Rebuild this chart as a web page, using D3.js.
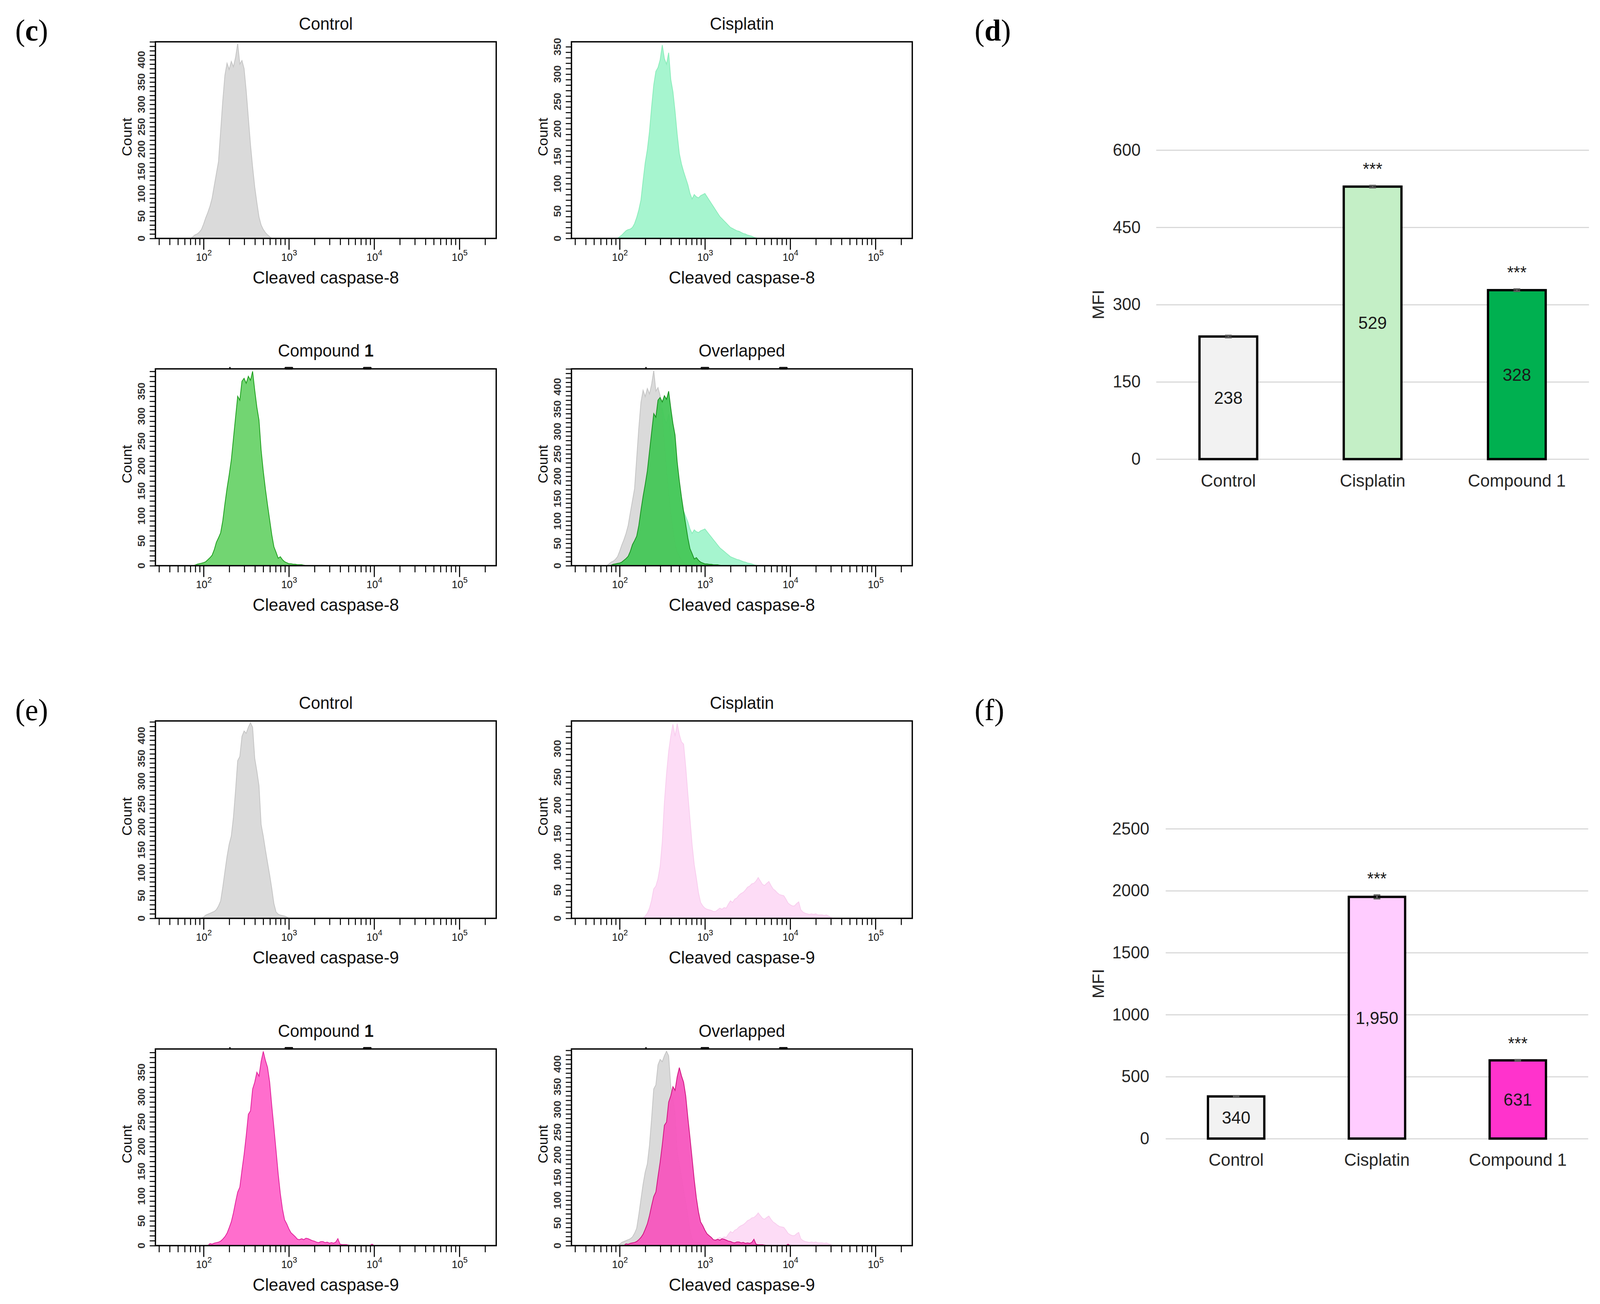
<!DOCTYPE html>
<html><head><meta charset="utf-8">
<script src="https://cdn.jsdelivr.net/npm/d3@7"></script>
<style>
html,body{margin:0;padding:0;background:#fff;width:100%;height:100%;overflow:hidden;}
svg{display:block;width:100vw;height:100vh;}
text{font-family:"Liberation Sans",Arial,sans-serif;white-space:pre;}
</style>
</head><body>
<svg id="fig" viewBox="0 0 4211 3339" preserveAspectRatio="none"></svg>
<script>
// ================= DATA =================
// histogram bins: log10 fluorescence, first bin and bin width (decades)
const binStartLog = 1.85;
const binStepLog = 0.025;

// Cleaved caspase-8 histograms (counts per bin)
const c8Control = [0,4,8,10,14,20,32,46,58,72,90,118,145,172,240,308,365,392,378,396,384,405,436,390,398,380,330,270,210,160,115,80,48,30,20,13,8,4,0];
const c8Cisplatin = [0,0,0,0,0,0,3,6,10,14,16,17,20,27,38,52,70,105,138,162,195,240,280,305,312,326,353,328,318,339,290,268,232,190,155,136,122,110,98,82,72,80,76,74,78,80,82,76,70,64,58,52,46,40,36,32,28,24,20,18,16,14,13,11,9,8,6,5,4,2,1,0];
const c8Compound = [0,0,1,3,4,5,6,8,12,16,21,32,47,56,66,90,124,155,182,212,255,298,340,332,370,376,366,380,372,390,352,318,292,232,190,154,122,92,62,38,27,15,18,12,8,6,4,4,3,3,2,2,2,1,0];

// Cleaved caspase-9 histograms
const c9Control = [0,0,0,0,0,0,3,7,9,11,13,15,19,27,38,68,102,135,162,180,221,280,345,354,398,410,405,418,428,418,350,322,290,205,180,150,122,95,65,32,14,9,7,6,5,3,0];
const c9Cisplatin = [0,0,0,0,0,0,0,0,0,0,0,0,0,0,0,0,0,0,
  4,9,18,32,52,57,70,92,135,205,255,295,322,343,322,344,325,312,308,268,220,175,130,95,71,45,28,22,18,16,15,14,12,12,15,18,16,19,18,25,31,28,34,36,41,44,46,50,55,57,61,62,66,72,66,60,58,62,65,58,52,49,45,42,41,40,34,27,24,22,22,26,29,15,11,9,8,7,8,7,8,6,6,6,5,6,4,2,0];
const c9Compound = [0,0,0,0,0,0,0,0,0,
  4,3,5,6,7,9,13,18,25,36,48,66,88,108,118,152,184,222,265,272,316,330,350,342,372,392,374,360,330,282,238,192,145,105,74,52,44,34,26,22,18,13,12,14,12,15,14,12,10,9,7,6,8,8,6,7,5,6,5,7,14,3,2,2,2,1,0,0,0,0,0,0,0,0,0,0,3,0];

const histTitles = ["Control", "Cisplatin", "Compound 1", "Overlapped"];
const c8AxisLabel = "Cleaved caspase-8";
const c9AxisLabel = "Cleaved caspase-9";
const c8YMax = [440, 359, 395, 440];
const c9YMax = [432, 349, 397, 433];
const countTickLabels = [0, 50, 100, 150, 200, 250, 300, 350, 400];
const decadeTicks = [100, 1000, 10000, 100000];
const decadeExponents = ["2", "3", "4", "5"];
// small dark marks on the top frame of the "Compound 1" / "Overlapped" plots (log10 start, end)
const topFrameMarks = [[2.30, 2.315], [2.95, 3.05], [3.87, 3.97]];

// MFI bar charts
const mfiCategories = ["Control", "Cisplatin", "Compound 1"];
const mfiCasp8 = [238, 529, 328];
const mfiCasp8Err = [2, 2, 2];
const mfiCasp8Sig = ["", "***", "***"];
const mfiCasp8Ticks = [0, 150, 300, 450, 600];
const mfiCasp9 = [340, 1950, 631];
const mfiCasp9Err = [5, 14, 5];
const mfiCasp9Sig = ["", "***", "***"];
const mfiCasp9Ticks = [0, 500, 1000, 1500, 2000, 2500];

const casp8BarColors = ["#f2f2f2", "#c4efc6", "#00b050"];
const casp9BarColors = ["#f2f2f2", "#ffccff", "#ff33cc"];

const panelLetters = ["c", "d", "e", "f"];

// ================= DRAW =================
const svg = d3.select("#fig");
svg.append("rect").attr("width", 4211).attr("height", 3339).attr("fill", "#fff");
const defs = svg.append("defs");
let clipCount = 0;

const histStyles = {
  grey:        {fill: "#dadada", stroke: "#c4c4c4", op: 1},
  mint:        {fill: "#a6f5cf", stroke: "#8aecba", op: 1},
  green:       {fill: "#72d572", stroke: "#1c9e1c", op: 1},
  greenDark:   {fill: "#45c757", stroke: "#17911f", op: 0.95},
  pink:        {fill: "#fddcf6", stroke: "#f8cdee", op: 1},
  magenta:     {fill: "#ff6ecd", stroke: "#e0219a", op: 1},
  magentaDark: {fill: "#f756be", stroke: "#cf127f", op: 0.95}
};

const xDomain = [Math.pow(10, 1.435), Math.pow(10, 5.432)];
const minorTicks = [];
for (let e = 1; e <= 5; e++) for (let m = 2; m <= 9; m++) {
  const v = m * Math.pow(10, e);
  if (v >= 30 && v <= 200000) minorTicks.push(v);
}

function drawHist(x0, x1, y0, y1, title, xlab, yMax, layers, withMarks) {
  const g = svg.append("g");
  const x = d3.scaleLog().domain(xDomain).range([x0, x1]);
  const y = d3.scaleLinear().domain([0, yMax]).range([y1, y0]);
  const cid = "clip" + (clipCount++);
  defs.append("clipPath").attr("id", cid).append("rect")
    .attr("x", x0).attr("y", y0).attr("width", x1 - x0).attr("height", y1 - y0);
  const area = d3.area()
    .x((d, i) => x(Math.pow(10, binStartLog + i * binStepLog)))
    .y0(y(0)).y1(d => y(d))
    .curve(d3.curveLinear);
  layers.forEach(L => {
    const s = histStyles[L.s];
    g.append("path").datum(L.d).attr("d", area)
      .attr("fill", s.fill).attr("fill-opacity", s.op)
      .attr("stroke", s.stroke).attr("stroke-width", 2)
      .attr("clip-path", `url(#${cid})`);
  });
  // x axis ticks (minor, then decades longer)
  const xa = g.append("g").attr("transform", `translate(0,${y1})`)
    .call(d3.axisBottom(x).tickValues(minorTicks).tickSize(17).tickSizeOuter(0).tickFormat(""));
  xa.select(".domain").remove();
  xa.selectAll("line").attr("stroke", "#000").attr("stroke-width", 2.6);
  const xm = g.append("g").attr("transform", `translate(0,${y1})`)
    .call(d3.axisBottom(x).tickValues(decadeTicks).tickSize(29).tickSizeOuter(0).tickFormat(""));
  xm.select(".domain").remove();
  xm.selectAll("line").attr("stroke", "#000").attr("stroke-width", 2.8);
  // y axis ticks
  const ya = g.append("g").attr("transform", `translate(${x0},0)`)
    .call(d3.axisLeft(y).tickValues(d3.range(0, yMax + 1e-9, 10)).tickSize(15).tickSizeOuter(0).tickFormat(""));
  ya.select(".domain").remove();
  ya.selectAll("line").attr("stroke", "#000").attr("stroke-width", 2.6);
  // frame
  g.append("rect").attr("x", x0).attr("y", y0).attr("width", x1 - x0).attr("height", y1 - y0)
    .attr("fill", "none").attr("stroke", "#000").attr("stroke-width", 3.5);
  if (withMarks) {
    topFrameMarks.forEach(m => {
      const a = x(Math.pow(10, m[0])), b = x(Math.pow(10, m[1]));
      g.append("rect").attr("x", a).attr("y", y0 - 5).attr("width", Math.max(4, b - a)).attr("height", 7)
        .attr("rx", 2).attr("fill", "#111");
    });
  }
  // decade labels
  decadeTicks.forEach((v, i) => {
    const t = g.append("text").attr("x", x(v) - 20).attr("y", y1 + 58)
      .attr("text-anchor", "start").style("font-size", "27px").attr("fill", "#111");
    t.append("tspan").text("10");
    t.append("tspan").attr("dy", -14).style("font-size", "21px").text(decadeExponents[i]);
  });
  // count labels
  countTickLabels.filter(v => v <= yMax).forEach(v => {
    g.append("text").attr("transform", `translate(${x0 - 37},${y(v)}) rotate(-90)`)
      .attr("text-anchor", "middle").attr("dominant-baseline", "central")
      .style("font-size", "27px").style("font-weight", "bold").attr("fill", "#333").text(v);
  });
  g.append("text").attr("transform", `translate(${x0 - 75},${(y0 + y1) / 2 - 8}) rotate(-90)`)
    .attr("text-anchor", "middle").attr("dominant-baseline", "central")
    .style("font-size", "37px").attr("fill", "#111").text("Count");
  // title
  const tt = g.append("text").attr("x", (x0 + x1) / 2).attr("y", y0 - 31)
    .attr("text-anchor", "middle").style("font-size", "44px").attr("fill", "#111");
  if (title.endsWith(" 1")) {
    tt.append("tspan").text(title.slice(0, -1));
    tt.append("tspan").style("font-weight", "bold").text("1");
  } else tt.text(title);
  // x label
  g.append("text").attr("x", (x0 + x1) / 2).attr("y", y1 + 116)
    .attr("text-anchor", "middle").style("font-size", "45px").attr("fill", "#111").text(xlab);
}

function drawBars(cfg) {
  const g = svg.append("g");
  const x = d3.scaleBand().domain(mfiCategories).range([cfg.x0, cfg.x1]).paddingInner(0.6).paddingOuter(0.3);
  const y = d3.scaleLinear().domain([0, cfg.max]).range([cfg.yb, cfg.yt]);
  const ya = g.append("g").attr("transform", `translate(${cfg.x0},0)`)
    .call(d3.axisLeft(y).tickValues(cfg.ticks).tickSize(-(cfg.x1 - cfg.x0)).tickPadding(cfg.pad).tickFormat(d => String(d)));
  ya.select(".domain").remove();
  ya.selectAll("line").attr("stroke", "#d9d9d9").attr("stroke-width", 3);
  ya.selectAll("text").style("font-size", "44px").attr("fill", "#262626").style("font-family", '"Liberation Sans", Arial, sans-serif');
  const xa = g.append("g").attr("transform", `translate(0,${cfg.yb})`)
    .call(d3.axisBottom(x).tickSize(0).tickPadding(38));
  xa.select(".domain").remove();
  xa.selectAll("text").style("font-size", "45px").attr("fill", "#262626").style("font-family", '"Liberation Sans", Arial, sans-serif');
  mfiCategories.forEach((c, i) => {
    const v = cfg.values[i], e = cfg.errs[i];
    const bx = x(c), bw = x.bandwidth(), cx = bx + bw / 2;
    g.append("rect").attr("x", bx).attr("y", y(v)).attr("width", bw).attr("height", y(0) - y(v))
      .attr("fill", cfg.colors[i]).attr("stroke", "#000").attr("stroke-width", 6);
    g.append("line").attr("x1", cx).attr("x2", cx).attr("y1", y(v - e)).attr("y2", y(v + e))
      .attr("stroke", "#595959").attr("stroke-width", 4);
    [v - e, v + e].forEach(val => g.append("line").attr("x1", cx - 9).attr("x2", cx + 9)
      .attr("y1", y(val)).attr("y2", y(val)).attr("stroke", "#595959").attr("stroke-width", 4));
    g.append("text").attr("x", cx).attr("y", (y(v) + y(0)) / 2).attr("text-anchor", "middle")
      .attr("dominant-baseline", "central").style("font-size", "45px").attr("fill", "#1a1a1a")
      .text(d3.format(",")(v));
    if (cfg.sig[i]) g.append("text").attr("x", cx).attr("y", y(v + e) - 27).attr("text-anchor", "middle")
      .style("font-size", "44px").attr("fill", "#1a1a1a").text(cfg.sig[i]);
  });
  g.append("text").attr("transform", `translate(2890,${(cfg.yb + cfg.yt) / 2}) rotate(-90)`)
    .attr("text-anchor", "middle").attr("dominant-baseline", "central")
    .style("font-size", "44px").attr("fill", "#262626").text("MFI");
}

// layout
const cols = [[409, 1306], [1504, 2401]];
const rows = [[107, 610.5], [944.5, 1448.5], [1846, 2351.5], [2686, 3189.5]];

const c8Layers = [
  [{d: c8Control, s: "grey"}],
  [{d: c8Cisplatin, s: "mint"}],
  [{d: c8Compound, s: "green"}],
  [{d: c8Cisplatin, s: "mint"}, {d: c8Control, s: "grey"}, {d: c8Compound, s: "greenDark"}]
];
const c9Layers = [
  [{d: c9Control, s: "grey"}],
  [{d: c9Cisplatin, s: "pink"}],
  [{d: c9Compound, s: "magenta"}],
  [{d: c9Cisplatin, s: "pink"}, {d: c9Control, s: "grey"}, {d: c9Compound, s: "magentaDark"}]
];

for (let k = 0; k < 4; k++) {
  const c = cols[k % 2], r = rows[Math.floor(k / 2)];
  drawHist(c[0], c[1], r[0], r[1], histTitles[k], c8AxisLabel, c8YMax[k], c8Layers[k], k >= 2);
}
for (let k = 0; k < 4; k++) {
  const c = cols[k % 2], r = rows[2 + Math.floor(k / 2)];
  drawHist(c[0], c[1], r[0], r[1], histTitles[k], c9AxisLabel, c9YMax[k], c9Layers[k], k >= 2);
}

drawBars({x0: 3043, x1: 4182, yb: 1175.6, yt: 384.2, max: 600, ticks: mfiCasp8Ticks, pad: 41,
  values: mfiCasp8, errs: mfiCasp8Err, sig: mfiCasp8Sig, colors: casp8BarColors});
drawBars({x0: 3068, x1: 4180, yb: 2915.4, yt: 2122, max: 2500, ticks: mfiCasp9Ticks, pad: 43,
  values: mfiCasp9, errs: mfiCasp9Err, sig: mfiCasp9Sig, colors: casp9BarColors});

// panel letters
const letterPos = [[40, 104], [2565, 104], [40, 1844], [2565, 1844]];
panelLetters.forEach((L, i) => {
  const t = svg.append("text").attr("x", letterPos[i][0]).attr("y", letterPos[i][1])
    .style("font-family", '"Liberation Serif", "DejaVu Serif", serif').style("font-size", "78px").attr("fill", "#000");
  t.append("tspan").text("(");
  t.append("tspan").style("font-weight", i < 2 ? "bold" : "normal").text(L);
  t.append("tspan").text(")");
});
</script>
</body></html>
